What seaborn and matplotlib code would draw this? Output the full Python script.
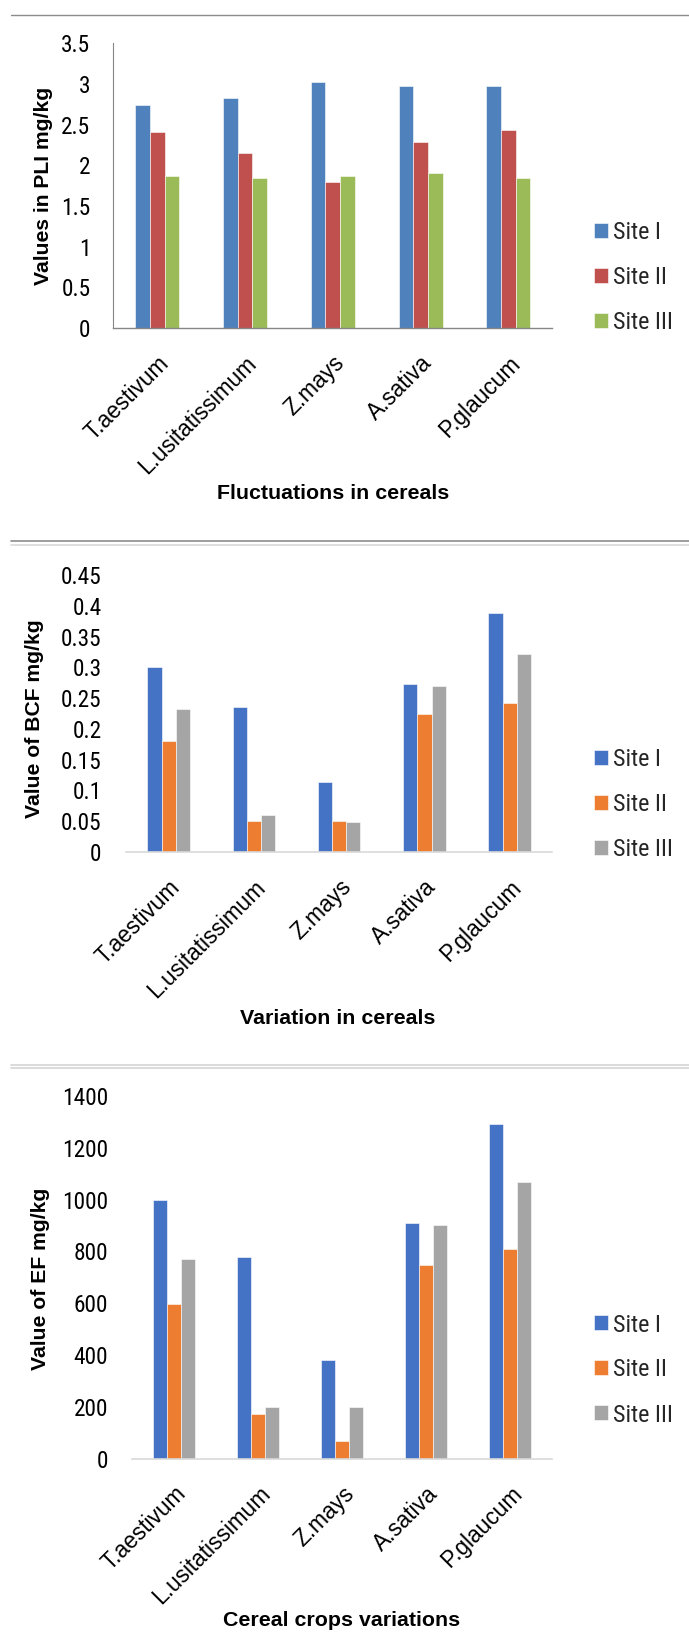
import numpy as np
import pandas as pd
import matplotlib
matplotlib.use("Agg")
import matplotlib.pyplot as plt
import seaborn as sns
from matplotlib import font_manager as fm
from matplotlib.font_manager import FontProperties
from matplotlib.lines import Line2D
from matplotlib.ticker import FuncFormatter

# ---------------- data ----------------
crops = ["T.aestivum", "L.usitatissimum", "Z.mays", "A.sativa", "P.glaucum"]
sites = ["Site I", "Site II", "Site III"]

pli_site1 = [2.74, 2.83, 3.03, 2.97, 2.97]
pli_site2 = [2.41, 2.15, 1.80, 2.29, 2.44]
pli_site3 = [1.87, 1.84, 1.87, 1.91, 1.84]

bcf_site1 = [0.301, 0.235, 0.114, 0.273, 0.388]
bcf_site2 = [0.180, 0.051, 0.050, 0.225, 0.242]
bcf_site3 = [0.232, 0.060, 0.048, 0.270, 0.321]

ef_site1 = [1000, 779, 381, 909, 1292]
ef_site2 = [596, 171, 69, 749, 808]
ef_site3 = [769, 199, 199, 902, 1069]

pli_ticks = [0, 0.5, 1, 1.5, 2, 2.5, 3, 3.5]
bcf_ticks = [0, 0.05, 0.1, 0.15, 0.2, 0.25, 0.3, 0.35, 0.4, 0.45]
ef_ticks = [0, 200, 400, 600, 800, 1000, 1200, 1400]

titles_y = ["Values in PLI mg/kg", "Value of BCF mg/kg", "Value of EF mg/kg"]
titles_x = ["Fluctuations in cereals", "Variation in cereals", "Cereal crops variations"]

pal_2007 = ["#4F81BD", "#C0504D", "#9BBB59"]
pal_2013 = ["#4472C4", "#ED7D31", "#A5A5A5"]


def long_df(v1, v2, v3):
    return pd.DataFrame({
        "crop": crops * 3,
        "site": [s for s in sites for _ in crops],
        "value": list(v1) + list(v2) + list(v3),
    })


# ---------------- fonts ----------------
sns.set_style("white")
names = {f.name for f in fm.fontManager.ttflist}
BASE = "Liberation Sans" if "Liberation Sans" in names else "DejaVu Sans"
plt.rcParams["font.family"] = [BASE, "DejaVu Sans"]


def _stretch_val(st):
    table = {"ultra-condensed": 100, "extra-condensed": 200, "condensed": 300,
             "semi-condensed": 400, "normal": 500, "semi-expanded": 600,
             "expanded": 700, "extra-expanded": 800, "ultra-expanded": 900}
    if isinstance(st, str):
        return table.get(st, 500)
    return st


def _is_regular(f):
    w = f.weight
    wv = w if isinstance(w, int) else {"normal": 400, "regular": 400, "book": 400,
                                       "medium": 500}.get(str(w), 700)
    return wv in (400, 500) and f.style == "normal"


def pick_narrow():
    pri = ["Liberation Sans Narrow", "Arial Narrow", "Roboto Condensed",
           "Noto Sans", "Open Sans", "DejaVu Sans", "Liberation Sans", "Roboto", "Lato", "Inter"]
    best = None
    for f in fm.fontManager.ttflist:
        if not _is_regular(f):
            continue
        sv = _stretch_val(f.stretch)
        cond = ("Narrow" in f.name) or ("Condensed" in f.name) or sv < 500
        if not cond:
            continue
        try:
            rank = pri.index(f.name)
        except ValueError:
            rank = len(pri)
        key = (rank, abs((sv if sv < 500 else 300) - 300))
        if best is None or key < best[0]:
            best = (key, f.fname)
    return best[1] if best else None


NARROW_FILE = pick_narrow()

W, H = 689, 1636
fig = plt.figure(figsize=(W / 100, H / 100), dpi=100)
renderer = fig.canvas.get_renderer()


def make_prop(text, target_px, fname=None, family=None, weight="normal"):
    if fname:
        prop = FontProperties(fname=fname, size=10)
    else:
        prop = FontProperties(family=family or BASE, weight=weight, size=10)
    w, h, d = renderer.get_text_width_height_descent(text, prop, ismath=False)
    prop.set_size(10 * target_px / w)
    return prop


narrow_prop = make_prop("0.45", 40.7, fname=NARROW_FILE)
legend_prop = make_prop("Site III", 59, fname=NARROW_FILE)
xtick_prop = make_prop("L.usitatissimum", 156)
xlab_prop = make_prop("Fluctuations in cereals", 231, weight="bold")
ylab_prop = make_prop("Value of BCF mg/kg", 199, weight="bold")

# legend row pitch of 45 px in the reference
leg_fs_px = legend_prop.get_size() / 0.72
_lw, _lh, _ld = renderer.get_text_width_height_descent("lp", legend_prop, ismath=False)
leg_row_h = max(_lh, 14)
leg_spacing = max(0.0, (45 - leg_row_h) / leg_fs_px)


def fx(px):
    return px / W


def fy(py):
    return 1 - py / H


panels = [
    dict(df=long_df(pli_site1, pli_site2, pli_site3), pal=pal_2007, ticks=pli_ticks,
         left=113.3, right=552.3, top=43.3, bottom=328.0, style="2007",
         ylab_xy=(44, 185.5), xlab_xy=(333, 493), leg_y=277.7, ypad=11.5),
    dict(df=long_df(bcf_site1, bcf_site2, bcf_site3), pal=pal_2013, ticks=bcf_ticks,
         left=126.0, right=552.3, top=575.0, bottom=852.0, style="2013",
         ylab_xy=(34.7, 719), xlab_xy=(338, 1018.5), leg_y=805.0, ypad=17.5),
    dict(df=long_df(ef_site1, ef_site2, ef_site3), pal=pal_2013, ticks=ef_ticks,
         left=132.3, right=552.3, top=1096.0, bottom=1458.5, style="2013",
         ylab_xy=(40.5, 1278.5), xlab_xy=(341.6, 1621), leg_y=1370.0, ypad=17.5),
]

for i, p in enumerate(panels):
    ax = fig.add_axes([fx(p["left"]), fy(p["bottom"]),
                       fx(p["right"]) - fx(p["left"]),
                       (p["bottom"] - p["top"]) / H])
    sns.barplot(data=p["df"], x="crop", y="value", hue="site",
                order=crops, hue_order=sites, palette=p["pal"],
                saturation=1, width=0.5, errorbar=None, ax=ax,
                edgecolor="white", linewidth=0.4)
    ticks = p["ticks"]
    ax.set_ylim(ticks[0], ticks[-1])
    ax.set_yticks(ticks)
    ax.yaxis.set_major_formatter(FuncFormatter(lambda v, pos: f"{round(v, 2):g}"))
    for lab in ax.get_yticklabels():
        lab.set_fontproperties(narrow_prop)
        lab.set_color("black")

    ax.set_xticks(range(len(crops)))
    ax.set_xticklabels(crops, rotation=45, ha="right", va="top",
                       rotation_mode="anchor", color="black")
    for lab in ax.get_xticklabels():
        lab.set_fontproperties(xtick_prop)
    ax.tick_params(axis="x", length=0, pad=17)

    for s in ["top", "right"]:
        ax.spines[s].set_visible(False)
    if p["style"] == "2007":
        ax.spines["left"].set_color("#868686")
        ax.spines["left"].set_linewidth(0.8)
        ax.spines["bottom"].set_color("#868686")
        ax.spines["bottom"].set_linewidth(1.0)
        ax.tick_params(axis="y", direction="out", length=5, width=0.8,
                       color="#868686", pad=p["ypad"])
    else:
        ax.spines["left"].set_visible(False)
        ax.spines["bottom"].set_color("#d9d9d9")
        ax.spines["bottom"].set_linewidth(1.2)
        ax.tick_params(axis="y", length=0, pad=p["ypad"])
    ax.grid(False)

    ax.set_ylabel(titles_y[i], fontproperties=ylab_prop, color="black")
    ax.yaxis.set_label_coords(fx(p["ylab_xy"][0]), fy(p["ylab_xy"][1]),
                              transform=fig.transFigure)
    ax.yaxis.label.set_va("center")
    ax.set_xlabel(titles_x[i], fontproperties=xlab_prop, color="black")
    ax.xaxis.set_label_coords(fx(p["xlab_xy"][0]), fy(p["xlab_xy"][1]),
                              transform=fig.transFigure)
    ax.xaxis.label.set_va("center")

    old = ax.get_legend()
    handles = old.legend_handles
    labels = [t.get_text() for t in old.get_texts()]
    old.remove()
    ax.legend(handles, labels, loc="center left",
              bbox_to_anchor=(fx(594), fy(p["leg_y"])),
              bbox_transform=fig.transFigure, frameon=False,
              borderpad=0, borderaxespad=0,
              handlelength=14 / leg_fs_px, handleheight=14 / leg_fs_px,
              handletextpad=5 / leg_fs_px, labelspacing=leg_spacing,
              prop=legend_prop)

# separator lines between panels
fig.add_artist(Line2D([fx(11), 1], [fy(15), fy(15)], transform=fig.transFigure,
                      color="#8c8c8c", lw=1.0))
fig.add_artist(Line2D([fx(11), 1], [fy(541), fy(541)], transform=fig.transFigure,
                      color="#8c8c8c", lw=1.2))
fig.add_artist(Line2D([fx(11), 1], [fy(545), fy(545)], transform=fig.transFigure,
                      color="#d9d9d9", lw=1.2))
fig.add_artist(Line2D([fx(11), 1], [fy(1065), fy(1065)], transform=fig.transFigure,
                      color="#d4d4d4", lw=1.2))
fig.add_artist(Line2D([fx(11), 1], [fy(1068), fy(1068)], transform=fig.transFigure,
                      color="#d4d4d4", lw=1.2))

fig.savefig("out.png", dpi=100, facecolor="white")
